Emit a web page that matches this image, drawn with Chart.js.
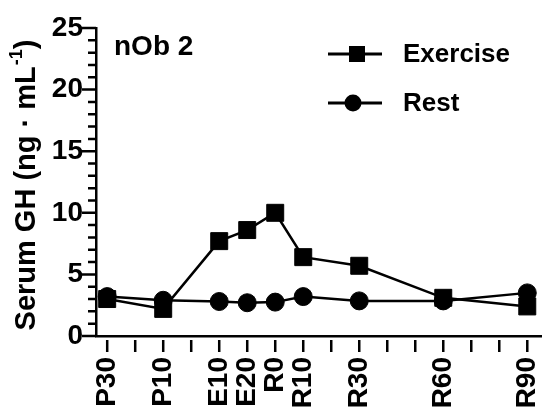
<!DOCTYPE html>
<html>
<head>
<meta charset="utf-8">
<script src="https://cdn.jsdelivr.net/npm/chart.js@4.4.1/dist/chart.umd.min.js"></script>
<style>
  html, body { margin: 0; padding: 0; background: #fff; }
  #wrap { width: 554px; height: 416px; }
</style>
</head>
<body>
<div id="wrap"><canvas id="ghChart" width="554" height="416"></canvas></div>
<script>
// sampling times (minutes relative to end of exercise) and their labels
const timeMinutes = [-60, -40, -20, -10, 0, 10, 30, 60, 90];
const timeLabels = ['P30', 'P10', 'E10', 'E20', 'R0', 'R10', 'R30', 'R60', 'R90'];

// serum GH, ng/mL
const exerciseGH = [3.0, 2.2, 7.7, 8.6, 10.0, 6.4, 5.7, 3.1, 2.4];
const restGH = [3.2, 2.9, 2.8, 2.7, 2.75, 3.2, 2.85, 2.85, 3.5];

const yTickValues = [0, 5, 10, 15, 20, 25];
const subjectLabel = 'nOb 2';
// y title is drawn in pieces so the exponent can sit raised
const yTitleMain = 'Serum GH (ng · mL';
const yTitleSup = '-1';
const yTitleEnd = ')';

const FONT = "'Liberation Sans', Arial, sans-serif";
const INK = '#000';

Chart.defaults.font.family = FONT;
Chart.defaults.font.weight = 'bold';
Chart.defaults.color = INK;

const toPoints = (vals) => vals.map((v, i) => ({ x: timeMinutes[i], y: v }));

// tick marks: y has long major / short minor marks, x marks hang below the axis
const tickMarks = {
  id: 'tickMarks',
  afterDraw(chart) {
    const { ctx, chartArea } = chart;
    const xs = chart.scales.x, ys = chart.scales.y;
    ctx.save();
    ctx.strokeStyle = INK;
    ctx.lineWidth = 2.5;
    ctx.beginPath();
    for (let v = 0; v <= 25; v++) {
      const py = ys.getPixelForValue(v);
      const len = v % 5 === 0 ? 14 : 8;
      ctx.moveTo(chartArea.left, py);
      ctx.lineTo(chartArea.left - len, py);
    }
    for (let m = -60; m <= 90; m += 10) {
      const px = xs.getPixelForValue(m);
      ctx.moveTo(px, chartArea.bottom + 4);
      ctx.lineTo(px, chartArea.bottom + 16);
    }
    ctx.stroke();
    ctx.restore();
  }
};

// y title, subject tag and line+marker legend
const annotations = {
  id: 'annotations',
  afterDraw(chart) {
    const { ctx, chartArea } = chart;
    ctx.save();
    ctx.fillStyle = INK;
    ctx.strokeStyle = INK;
    ctx.textBaseline = 'middle';
    ctx.textAlign = 'left';

    // rotated axis title with superscript
    const big = 'bold 29px ' + FONT, small = 'bold 18px ' + FONT;
    ctx.font = big;
    const w1 = ctx.measureText(yTitleMain).width;
    const w3 = ctx.measureText(yTitleEnd).width;
    ctx.font = small;
    const w2 = ctx.measureText(yTitleSup).width + 1;
    let x0 = -(w1 + w2 + w3) / 2;
    ctx.save();
    ctx.translate(27, 185);
    ctx.rotate(-Math.PI / 2);
    ctx.font = big;
    ctx.fillText(yTitleMain, x0, 0);
    ctx.font = small;
    ctx.fillText(yTitleSup, x0 + w1 + 1, -10);
    ctx.font = big;
    ctx.fillText(yTitleEnd, x0 + w1 + w2, 0);
    ctx.restore();

    ctx.font = 'bold 28px ' + FONT;
    ctx.fillText(subjectLabel, chartArea.left + 18, 47);

    ctx.font = 'bold 26px ' + FONT;
    chart.data.datasets.forEach((ds, i) => {
      const y = 54 + i * 49;
      ctx.lineWidth = 3;
      ctx.beginPath();
      ctx.moveTo(328, y);
      ctx.lineTo(382, y);
      ctx.stroke();
      if (ds.pointStyle === 'rect') {
        ctx.fillRect(357 - 8, y - 8, 16, 16);
      } else {
        ctx.beginPath();
        ctx.arc(353, y, 8.5, 0, Math.PI * 2);
        ctx.fill();
      }
      ctx.fillText(ds.label, 403, y + 1);
    });
    ctx.restore();
  }
};

new Chart(document.getElementById('ghChart').getContext('2d'), {
  type: 'scatter',
  data: {
    datasets: [
      {
        label: 'Exercise',
        data: toPoints(exerciseGH),
        showLine: true,
        borderColor: INK,
        borderWidth: 2.5,
        pointStyle: 'rect',
        pointRadius: 12,
        pointBackgroundColor: INK,
        pointBorderColor: INK,
        pointBorderWidth: 1
      },
      {
        label: 'Rest',
        data: toPoints(restGH),
        showLine: true,
        borderColor: INK,
        borderWidth: 2.5,
        pointStyle: 'circle',
        pointRadius: 9,
        pointBackgroundColor: INK,
        pointBorderColor: INK,
        pointBorderWidth: 1
      }
    ]
  },
  options: {
    responsive: false,
    animation: false,
    layout: { padding: { top: 28, right: 0, left: 0, bottom: 0 } },
    plugins: {
      legend: { display: false },
      tooltip: { enabled: false }
    },
    scales: {
      x: {
        type: 'linear',
        min: -64,
        max: 94.9,
        afterBuildTicks: (scale) => {
          scale.ticks = timeMinutes.map(v => ({ value: v }));
        },
        afterFit: (scale) => {
          scale.height = 80;
          scale.paddingLeft = 0;
          scale.paddingRight = 0;
        },
        ticks: {
          autoSkip: false,
          minRotation: 90,
          maxRotation: 90,
          padding: 21,
          font: { size: 28, weight: 'bold' },
          callback: (v) => {
            const i = timeMinutes.indexOf(v);
            return i >= 0 ? timeLabels[i] : '';
          }
        },
        grid: { drawOnChartArea: false, drawTicks: false },
        border: { color: INK, width: 2.5 }
      },
      y: {
        min: 0,
        max: 25,
        afterBuildTicks: (scale) => {
          scale.ticks = yTickValues.map(v => ({ value: v }));
        },
        afterFit: (scale) => {
          scale.width = 96;
          scale.paddingTop = 0;
          scale.paddingBottom = 0;
        },
        ticks: {
          padding: 13,
          font: { size: 28, weight: 'bold' }
        },
        grid: { drawOnChartArea: false, drawTicks: false },
        border: { color: INK, width: 2.5 }
      }
    }
  },
  plugins: [tickMarks, annotations]
});
</script>
</body>
</html>
